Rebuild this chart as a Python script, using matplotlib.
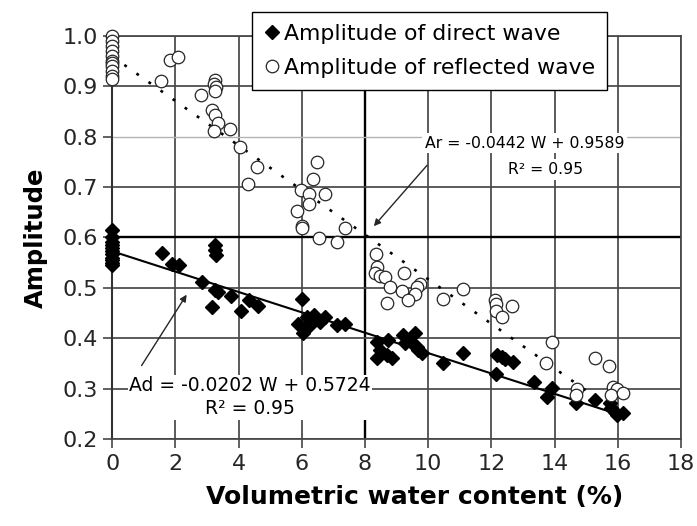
import matplotlib
matplotlib.use("Agg")
import matplotlib.pyplot as plt
import numpy as np

plt.rcParams['font.family'] = ['DejaVu Sans']

# volumetric water content (%) / amplitude of direct wave
w_direct = [0, 0, 0, 0, 0, 0, 0, 0, 0, 0, 0,
            1.56, 1.88, 2.11, 3.25, 3.25, 3.28, 2.83, 3.25, 3.34, 3.76, 3.17,
            4.07, 4.33, 4.62, 5.99, 5.89, 6.03, 6.10, 6.26, 6.36, 6.47, 6.57,
            6.73, 6.15, 6.38, 7.10, 7.36, 8.37, 8.37, 8.47, 8.73, 8.68, 8.84,
            9.19, 9.58, 9.26, 9.47, 9.63, 9.79, 9.67, 10.47, 11.09, 12.18,
            12.32, 12.43, 12.67, 12.16, 13.34, 13.91, 13.75, 14.67, 15.28,
            15.75, 15.80, 15.91, 15.96, 16.15]
a_direct = [0.614, 0.600, 0.590, 0.585, 0.578, 0.572, 0.566, 0.560, 0.555, 0.550, 0.545,
            0.569, 0.548, 0.546, 0.585, 0.575, 0.565, 0.512, 0.495, 0.492, 0.484, 0.462,
            0.454, 0.476, 0.464, 0.478, 0.429, 0.410, 0.423, 0.426, 0.436, 0.439, 0.433,
            0.442, 0.442, 0.446, 0.426, 0.429, 0.393, 0.360, 0.376, 0.396, 0.366, 0.360,
            0.406, 0.410, 0.390, 0.393, 0.383, 0.370, 0.376, 0.350, 0.371, 0.367,
            0.362, 0.359, 0.353, 0.329, 0.313, 0.302, 0.284, 0.271, 0.277,
            0.271, 0.261, 0.254, 0.247, 0.252]

# volumetric water content (%) / amplitude of reflected wave
w_refl = [0, 0, 0, 0, 0, 0, 0, 0, 0, 0, 0,
          1.83, 2.09, 1.53, 3.25, 3.22, 3.27, 3.24, 2.81, 3.15, 3.25, 3.34, 3.22,
          3.72, 4.04, 4.59, 4.31, 6.49, 6.36, 5.96, 6.23, 6.73, 6.23, 5.85, 6.01,
          6.01, 7.36, 6.55, 7.10, 8.34, 8.37, 8.31, 8.47, 8.63, 9.23, 8.79, 9.16,
          9.74, 9.63, 9.58, 9.37, 8.70, 10.47, 11.09, 12.11, 12.16, 12.14, 12.35,
          12.64, 13.91, 13.72, 15.28, 15.73, 14.70, 14.67, 15.85, 15.96, 15.77, 16.15]
a_refl = [1.000, 0.990, 0.980, 0.970, 0.960, 0.950, 0.945, 0.940, 0.930, 0.920, 0.915,
          0.952, 0.957, 0.910, 0.912, 0.905, 0.898, 0.890, 0.882, 0.853, 0.843, 0.827, 0.811,
          0.815, 0.779, 0.740, 0.706, 0.750, 0.715, 0.694, 0.686, 0.686, 0.667, 0.652, 0.623,
          0.619, 0.618, 0.598, 0.591, 0.566, 0.542, 0.529, 0.524, 0.522, 0.529, 0.501, 0.494,
          0.507, 0.502, 0.488, 0.476, 0.470, 0.478, 0.497, 0.476, 0.468, 0.454, 0.442,
          0.464, 0.392, 0.351, 0.361, 0.345, 0.300, 0.288, 0.304, 0.300, 0.288, 0.292]

# linear fits as printed on the chart
fit_d = (-0.0202, 0.5724)
fit_r = (-0.0442, 0.9589)
fit_w_d = [0, 16.2]
fit_w_r = [0, 16.0]

fig = plt.figure(figsize=(6.97, 5.26), dpi=100)
ax = fig.add_axes([0.1611, 0.1654, 0.8159, 0.7667])

ax.set_xlim(0, 18)
ax.set_ylim(0.2, 1.0)
ax.set_xticks(np.arange(0, 19, 2))
ax.set_yticks(np.arange(0.2, 1.01, 0.1))
ax.set_yticklabels(['%.1f' % v for v in np.arange(0.2, 1.01, 0.1)])

ax.grid(True, color='0.28', lw=1.25, zorder=0)
for v, ln in zip(ax.get_yticks(), ax.get_ygridlines()):
    if abs(v - 0.6) < 1e-6:
        ln.set_color('black'); ln.set_linewidth(1.7)
    elif abs(v - 0.8) < 1e-6:
        ln.set_color('0.7'); ln.set_linewidth(1.0)
for v, ln in zip(ax.get_xticks(), ax.get_xgridlines()):
    if abs(v - 8) < 1e-6:
        ln.set_color('black'); ln.set_linewidth(1.7)
ax.set_axisbelow(True)

for side in ['top', 'right', 'bottom']:
    ax.spines[side].set_color('0.28')
    ax.spines[side].set_linewidth(1.25)
ax.spines['left'].set_color('0.2')
ax.spines['left'].set_linewidth(1.5)

ax.tick_params(axis='both', direction='out', length=6.5, width=1.2,
               labelsize=16, pad=4, colors='0.15')
ax.tick_params(axis='both', color='0.28')

# trend lines
xd = np.array(fit_w_d)
xr = np.array(fit_w_r)
ax.plot(xd, fit_d[0] * xd + fit_d[1], color='black', lw=1.5, zorder=3)
ax.plot(xr, fit_r[0] * xr + fit_r[1], color='black', lw=1.9,
        linestyle=(0, (1.1, 4.5)), zorder=3)

ax.plot(w_direct, a_direct, linestyle='none', marker='D', ms=7, mfc='black',
        mec='black', label='Amplitude of direct wave', zorder=4, clip_on=False)
ax.plot(w_refl, a_refl, linestyle='none', marker='o', ms=9, mfc='white',
        mec='0.15', mew=0.9, label='Amplitude of reflected wave', zorder=4,
        clip_on=False)

# equation labels
ax.annotate('', xy=(8.22, 0.618), xytext=(10.02, 0.747),
            arrowprops=dict(arrowstyle='-|>', color='0.15', lw=1.0,
                            mutation_scale=10), zorder=5)
ax.text(13.05, 0.787, 'Ar = -0.0442 W + 0.9589', ha='center', va='center',
        fontsize=11.3, zorder=6,
        bbox=dict(facecolor='white', edgecolor='none', pad=2))
ax.text(13.72, 0.734, 'R² = 0.95', ha='center', va='center', fontsize=11.3, zorder=6,
        bbox=dict(facecolor='white', edgecolor='none', pad=2))

ax.annotate('', xy=(2.40, 0.491), xytext=(0.88, 0.341),
            arrowprops=dict(arrowstyle='-|>', color='0.15', lw=1.0,
                            mutation_scale=10), zorder=5)
ax.text(4.36, 0.283, 'Ad = -0.0202 W + 0.5724\nR² = 0.95', ha='center', va='center',
        fontsize=13.5, linespacing=1.3, zorder=6,
        bbox=dict(facecolor='white', edgecolor='none', pad=1))

ax.set_xlabel('Volumetric water content (%)', fontsize=18, fontweight='bold')
ax.xaxis.set_label_coords(0.531, -0.113)
ax.set_ylabel('Amplitude', fontsize=17.5, fontweight='bold', labelpad=10)

leg = ax.legend(loc='upper left', bbox_to_anchor=(252 / 697, 1 - 12 / 526),
                bbox_transform=fig.transFigure, borderaxespad=0, fontsize=15.8,
                frameon=True, fancybox=False, framealpha=1, edgecolor='black',
                handlelength=0.7, handletextpad=0.2, borderpad=0.55,
                labelspacing=0.62)
leg.get_frame().set_linewidth(1.0)
leg.set_zorder(10)

fig.savefig('out.png', dpi=100)
